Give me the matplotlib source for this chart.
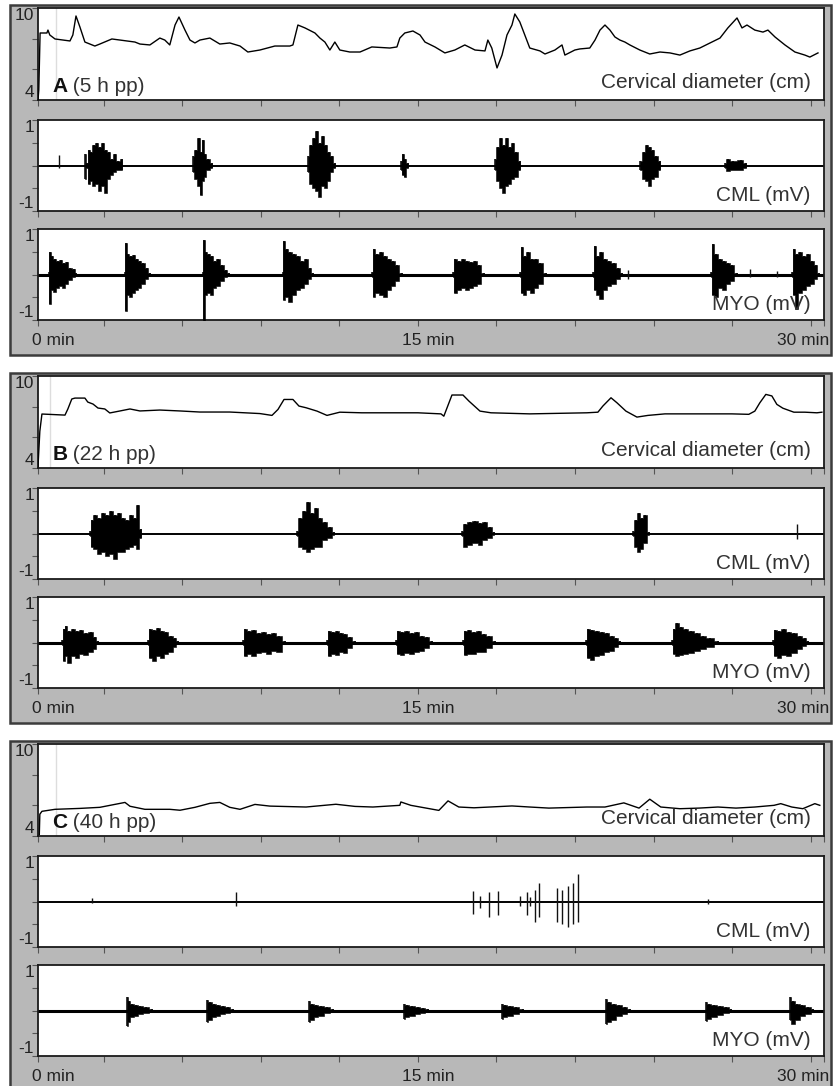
import matplotlib
matplotlib.use("Agg")
import matplotlib.pyplot as plt
from matplotlib.patches import Rectangle

plt.rcParams['font.family'] = ['Liberation Sans', 'DejaVu Sans']

# ---- cervical diameter traces (time in min, diameter in cm) ----
cerv_a_t = [0.50, 0.53, 0.58, 0.84, 0.88, 0.95, 1.15, 1.72, 1.83, 1.95, 2.10, 2.29, 2.48, 2.67, 2.86,
            3.32, 3.63, 4.20, 4.39, 4.77, 5.15, 5.34, 5.53, 5.73, 5.88, 6.11, 6.30, 6.49, 6.68, 7.06,
            7.44, 7.82, 8.21, 8.51, 8.97, 9.54, 10.11, 10.23, 10.42, 10.69, 11.07, 11.26, 11.45, 11.64,
            11.83, 12.02, 12.40, 12.79, 13.24, 13.93, 14.20, 14.31, 14.50, 14.81, 15.08, 15.27, 15.65,
            16.03, 16.41, 16.79, 17.18, 17.56, 17.67, 17.82, 18.02, 18.21, 18.40, 18.59, 18.70, 18.89,
            19.08, 19.27, 19.66, 19.85, 20.23, 20.50, 20.61, 20.99, 21.18, 21.56, 21.76, 21.95, 22.14,
            22.33, 22.52, 22.71, 22.90, 23.09, 23.47, 23.85, 24.24, 24.62, 25.00, 25.38, 25.76, 26.15,
            26.53, 26.83, 27.18, 27.37, 27.56, 27.86, 28.17, 28.36, 28.63, 29.01, 29.39, 29.77, 29.96,
            30.27]
cerv_a_v = [4.00, 4.65, 8.37, 8.37, 8.56, 8.24, 7.98, 7.85, 8.24, 9.48, 8.76, 7.78, 7.65, 7.52, 7.65,
            7.98, 7.91, 7.78, 7.65, 7.59, 8.04, 7.91, 7.59, 8.89, 9.41, 8.56, 7.91, 7.72, 7.91, 8.04,
            7.65, 7.72, 7.52, 7.13, 7.26, 7.52, 7.52, 7.59, 8.89, 8.70, 8.37, 8.04, 7.78, 7.26,
            7.78, 7.26, 7.13, 7.13, 7.46, 7.39, 7.46, 8.04, 8.37, 8.50, 8.24, 7.78, 7.46,
            7.07, 7.26, 7.59, 7.26, 7.20, 7.91, 7.39, 6.09, 6.93, 8.24, 8.89, 9.61, 9.09,
            8.24, 7.39, 7.20, 7.00, 7.26, 7.59, 6.93, 7.26, 7.33, 7.39, 7.91, 8.56, 8.89,
            8.56, 8.11, 7.91, 7.78, 7.59, 7.26, 7.00, 7.13, 7.07, 6.93, 7.20, 7.39, 7.72,
            8.04, 8.70, 9.35, 8.70, 8.89, 8.56, 8.43, 8.56, 8.11, 7.59, 7.13, 6.93, 6.80,
            7.07]

cerv_b_t = [0.50, 0.57, 0.65, 1.53, 1.64, 1.79, 1.91, 2.29, 2.40, 2.60, 2.79, 3.05, 3.24, 3.63, 4.01,
            4.39, 5.15, 5.92, 6.68, 7.82, 8.97, 9.43, 9.66, 9.89, 10.23, 10.46, 10.73, 11.15, 11.53,
            12.02, 12.86, 15.00, 15.88, 15.99, 16.30, 16.72, 16.95, 17.37, 17.79, 19.27, 21.45, 21.87,
            22.06, 22.37, 22.60, 22.94, 23.36, 23.78, 24.43, 26.98, 27.63, 27.86, 28.05, 28.28, 28.51,
            28.70, 28.93, 29.35, 29.77, 30.23, 30.42]
cerv_b_v = [4.10, 6.40, 7.52, 7.45, 7.85, 8.50, 8.56, 8.56, 8.30, 8.17, 7.91, 7.85, 7.59, 7.72, 7.85,
            7.72, 7.78, 7.72, 7.65, 7.65, 7.55, 7.43, 7.82, 8.47, 8.47, 8.04, 7.93, 7.71, 7.43,
            7.64, 7.60, 7.60, 7.53, 7.38, 8.76, 8.76, 8.36, 7.71, 7.60, 7.53, 7.60, 7.64,
            8.04, 8.58, 8.25, 7.71, 7.32, 7.43, 7.53, 7.53, 7.50, 7.71, 8.25, 8.80, 8.70,
            8.15, 7.90, 7.64, 7.64, 7.60, 7.64]

cerv_c_t = [0.55, 0.57, 0.65, 1.15, 2.10, 2.86, 3.82, 4.01, 4.58, 5.53, 5.92, 6.49, 7.06, 7.44, 7.82,
            8.21, 8.78, 9.35, 10.73, 11.87, 12.60, 13.28, 14.31, 14.35, 14.73, 15.80, 16.15, 16.56,
            17.14, 18.59, 19.27, 20.00, 21.45, 22.14, 22.86, 23.44, 23.85, 24.27, 25.00, 25.73, 26.45,
            27.14, 27.86, 28.59, 28.85, 29.27, 29.69, 30.15, 30.34]
cerv_c_v = [4.10, 5.42, 5.61, 5.74, 5.80, 5.87, 6.19, 5.94, 5.74, 5.74, 5.68, 5.87, 6.13, 6.19, 5.87,
            5.74, 6.06, 5.95, 5.89, 6.07, 5.93, 5.89, 6.00, 6.22, 6.00, 5.67, 6.29, 5.89,
            5.84, 5.96, 5.89, 5.82, 5.89, 5.89, 6.16, 5.82, 6.40, 5.89, 5.78, 5.82, 5.89,
            5.82, 5.89, 6.00, 6.11, 5.89, 5.78, 6.11, 6.00]

# ---- EMG bursts: each point is (time min, upper mV, lower mV) ----
cml_a_bursts = [
    [(2.29, 0.25, -0.30), (2.37, 0.05, -0.05), (2.44, 0.35, -0.40), (2.52, 0.30, -0.35), (2.63, 0.45, -0.45),
     (2.75, 0.50, -0.40), (2.86, 0.40, -0.55), (2.98, 0.50, -0.45), (3.09, 0.35, -0.60), (3.21, 0.30, -0.30),
     (3.32, 0.15, -0.20), (3.44, 0.25, -0.15), (3.55, 0.10, -0.10), (3.70, 0.15, -0.10)],
    [(6.41, 0.20, -0.15), (6.53, 0.35, -0.30), (6.64, 0.60, -0.45), (6.72, 0.30, -0.65), (6.79, 0.55, -0.35),
     (6.87, 0.25, -0.25), (6.98, 0.15, -0.10), (7.14, 0.05, -0.05)],
    [(10.80, 0.20, -0.15), (10.92, 0.45, -0.40), (11.03, 0.60, -0.50), (11.15, 0.75, -0.55), (11.26, 0.50, -0.70),
     (11.37, 0.65, -0.45), (11.49, 0.45, -0.50), (11.60, 0.30, -0.35), (11.72, 0.20, -0.15), (11.83, 0.05, -0.05)],
    [(14.35, 0.10, -0.10), (14.43, 0.25, -0.20), (14.50, 0.15, -0.25), (14.62, 0.05, -0.05)],
    [(17.94, 0.15, -0.10), (18.05, 0.40, -0.35), (18.17, 0.60, -0.50), (18.28, 0.45, -0.60), (18.40, 0.60, -0.45),
     (18.51, 0.40, -0.40), (18.63, 0.50, -0.30), (18.74, 0.30, -0.25), (18.89, 0.10, -0.10)],
    [(23.47, 0.10, -0.10), (23.63, 0.30, -0.30), (23.74, 0.45, -0.35), (23.85, 0.40, -0.45), (23.97, 0.35, -0.30),
     (24.08, 0.20, -0.25), (24.24, 0.10, -0.10)],
    [(26.72, 0.05, -0.05), (26.83, 0.15, -0.12), (27.02, 0.10, -0.10), (27.33, 0.12, -0.10), (27.52, 0.05, -0.05)],
]
cml_a_spikes = [(1.30, 0.22, -0.05)]

myo_a_bursts = [
    [(0.92, 0.05, -0.05), (0.95, 0.49, -0.64), (1.03, 0.40, -0.35), (1.15, 0.35, -0.38), (1.26, 0.30, -0.30),
     (1.37, 0.32, -0.25), (1.49, 0.25, -0.30), (1.60, 0.28, -0.20), (1.72, 0.15, -0.12), (1.87, 0.12, -0.05),
     (1.95, 0.03, -0.03)],
    [(3.82, 0.05, -0.05), (3.85, 0.69, -0.80), (3.93, 0.45, -0.45), (4.05, 0.40, -0.50), (4.16, 0.42, -0.40),
     (4.27, 0.35, -0.35), (4.39, 0.30, -0.30), (4.50, 0.25, -0.20), (4.66, 0.15, -0.10), (4.77, 0.03, -0.03)],
    [(6.79, 0.05, -0.05), (6.83, 0.76, -1.10), (6.91, 0.50, -0.45), (7.02, 0.45, -0.40), (7.14, 0.40, -0.45),
     (7.25, 0.30, -0.30), (7.37, 0.35, -0.25), (7.52, 0.20, -0.15), (7.67, 0.10, -0.05), (7.79, 0.03, -0.03)],
    [(9.85, 0.05, -0.05), (9.89, 0.73, -0.55), (10.00, 0.55, -0.50), (10.11, 0.50, -0.60), (10.27, 0.45, -0.45),
     (10.42, 0.40, -0.35), (10.57, 0.30, -0.30), (10.73, 0.35, -0.20), (10.88, 0.15, -0.10), (10.99, 0.03, -0.03)],
    [(13.24, 0.05, -0.05), (13.32, 0.55, -0.50), (13.44, 0.45, -0.40), (13.59, 0.50, -0.45), (13.74, 0.40, -0.50),
     (13.89, 0.35, -0.35), (14.05, 0.30, -0.25), (14.20, 0.20, -0.15), (14.39, 0.03, -0.03)],
    [(16.34, 0.05, -0.05), (16.41, 0.35, -0.40), (16.56, 0.30, -0.35), (16.72, 0.35, -0.30), (16.87, 0.30, -0.35),
     (17.02, 0.28, -0.30), (17.18, 0.30, -0.25), (17.33, 0.20, -0.20), (17.52, 0.03, -0.03)],
    [(18.89, 0.05, -0.05), (18.97, 0.60, -0.40), (19.08, 0.40, -0.45), (19.20, 0.50, -0.35), (19.35, 0.35, -0.40),
     (19.50, 0.35, -0.30), (19.66, 0.25, -0.20), (19.89, 0.03, -0.03)],
    [(21.68, 0.05, -0.05), (21.76, 0.62, -0.35), (21.87, 0.40, -0.45), (21.98, 0.50, -0.53), (22.14, 0.35, -0.35),
     (22.29, 0.30, -0.25), (22.48, 0.25, -0.20), (22.63, 0.15, -0.10), (22.79, 0.03, -0.03)],
    [(26.18, 0.05, -0.05), (26.26, 0.67, -0.45), (26.37, 0.45, -0.50), (26.53, 0.35, -0.30), (26.68, 0.30, -0.35),
     (26.83, 0.25, -0.20), (26.98, 0.20, -0.15), (27.18, 0.03, -0.03)],
    [(29.27, 0.05, -0.05), (29.35, 0.56, -0.45), (29.47, 0.45, -0.76), (29.58, 0.50, -0.40), (29.73, 0.40, -0.35),
     (29.89, 0.45, -0.25), (30.04, 0.30, -0.20), (30.19, 0.20, -0.10), (30.31, 0.03, -0.03)],
]
myo_a_spikes = [(23.02, 0.10, -0.10), (27.67, 0.12, -0.05), (28.70, 0.08, -0.05)]

cml_b_bursts = [
    [(2.48, 0.05, -0.05), (2.56, 0.30, -0.30), (2.67, 0.40, -0.35), (2.82, 0.35, -0.45), (2.98, 0.45, -0.40),
     (3.13, 0.40, -0.50), (3.28, 0.50, -0.45), (3.44, 0.40, -0.55), (3.59, 0.45, -0.40), (3.74, 0.35, -0.40),
     (3.89, 0.30, -0.35), (4.05, 0.40, -0.30), (4.20, 0.35, -0.25), (4.31, 0.63, -0.35), (4.43, 0.10, -0.10)],
    [(10.38, 0.05, -0.05), (10.50, 0.35, -0.30), (10.65, 0.50, -0.35), (10.80, 0.70, -0.40), (10.95, 0.45, -0.35),
     (11.11, 0.55, -0.30), (11.26, 0.35, -0.30), (11.45, 0.25, -0.15), (11.64, 0.15, -0.10), (11.79, 0.03, -0.03)],
    [(16.68, 0.05, -0.05), (16.79, 0.20, -0.30), (16.98, 0.25, -0.25), (17.18, 0.28, -0.20), (17.37, 0.22, -0.25),
     (17.56, 0.25, -0.15), (17.75, 0.15, -0.10), (17.90, 0.03, -0.03)],
    [(23.21, 0.05, -0.05), (23.32, 0.30, -0.30), (23.44, 0.45, -0.40), (23.55, 0.35, -0.35), (23.66, 0.40, -0.20),
     (23.82, 0.03, -0.03)],
]
cml_b_spikes = [(29.47, 0.20, -0.12)]

myo_b_bursts = [
    [(1.41, 0.05, -0.05), (1.49, 0.30, -0.40), (1.56, 0.37, -0.30), (1.68, 0.25, -0.45), (1.83, 0.30, -0.30),
     (1.98, 0.25, -0.35), (2.14, 0.28, -0.25), (2.33, 0.20, -0.28), (2.52, 0.22, -0.20), (2.67, 0.12, -0.15),
     (2.79, 0.03, -0.03)],
    [(4.69, 0.05, -0.05), (4.77, 0.30, -0.35), (4.92, 0.28, -0.40), (5.08, 0.32, -0.30), (5.23, 0.25, -0.35),
     (5.38, 0.22, -0.25), (5.57, 0.15, -0.20), (5.73, 0.10, -0.10), (5.84, 0.03, -0.03)],
    [(8.32, 0.05, -0.05), (8.40, 0.30, -0.30), (8.55, 0.25, -0.25), (8.74, 0.28, -0.30), (8.93, 0.20, -0.22),
     (9.12, 0.22, -0.20), (9.31, 0.18, -0.25), (9.50, 0.20, -0.18), (9.69, 0.15, -0.20), (9.92, 0.03, -0.03)],
    [(11.53, 0.05, -0.05), (11.60, 0.25, -0.30), (11.76, 0.22, -0.25), (11.91, 0.25, -0.28), (12.06, 0.20, -0.20),
     (12.21, 0.18, -0.22), (12.40, 0.12, -0.12), (12.60, 0.03, -0.03)],
    [(14.16, 0.05, -0.05), (14.24, 0.25, -0.25), (14.39, 0.22, -0.28), (14.58, 0.25, -0.22), (14.77, 0.20, -0.25),
     (14.96, 0.22, -0.20), (15.15, 0.15, -0.18), (15.34, 0.12, -0.12), (15.53, 0.03, -0.03)],
    [(16.72, 0.05, -0.05), (16.79, 0.25, -0.28), (16.95, 0.28, -0.25), (17.14, 0.22, -0.25), (17.33, 0.25, -0.20),
     (17.52, 0.18, -0.20), (17.71, 0.15, -0.12), (17.94, 0.03, -0.03)],
    [(21.41, 0.05, -0.05), (21.49, 0.30, -0.35), (21.64, 0.28, -0.38), (21.83, 0.25, -0.30), (22.02, 0.22, -0.28),
     (22.21, 0.20, -0.20), (22.40, 0.15, -0.18), (22.56, 0.10, -0.10), (22.71, 0.03, -0.03)],
    [(24.69, 0.05, -0.05), (24.77, 0.30, -0.25), (24.89, 0.42, -0.30), (25.04, 0.35, -0.28), (25.23, 0.30, -0.25),
     (25.42, 0.25, -0.22), (25.65, 0.20, -0.18), (25.88, 0.15, -0.15), (26.15, 0.10, -0.10), (26.45, 0.03, -0.03)],
    [(28.55, 0.05, -0.05), (28.63, 0.28, -0.30), (28.78, 0.25, -0.35), (28.97, 0.30, -0.28), (29.16, 0.22, -0.30),
     (29.35, 0.20, -0.22), (29.58, 0.15, -0.15), (29.77, 0.10, -0.08), (29.89, 0.03, -0.03)],
]
myo_b_spikes = []

cml_c_bursts = []
cml_c_spikes = [(2.56, 0.08, -0.04), (8.05, 0.20, -0.10), (17.10, 0.22, -0.28), (17.37, 0.12, -0.15),
                (17.71, 0.20, -0.35), (18.05, 0.22, -0.30), (18.89, 0.12, -0.10), (19.16, 0.20, -0.30),
                (19.27, 0.10, -0.10), (19.47, 0.25, -0.45), (19.62, 0.40, -0.35), (20.31, 0.30, -0.45),
                (20.50, 0.25, -0.50), (20.73, 0.35, -0.55), (20.92, 0.40, -0.50), (21.11, 0.60, -0.45),
                (26.07, 0.05, -0.05)]

myo_c_bursts = [
    [(3.89, 0.29, -0.35), (3.97, 0.20, -0.25), (4.08, 0.15, -0.15), (4.24, 0.12, -0.12), (4.39, 0.10, -0.08),
     (4.62, 0.08, -0.06), (4.85, 0.03, -0.03)],
    [(6.95, 0.22, -0.26), (7.06, 0.18, -0.20), (7.21, 0.15, -0.15), (7.37, 0.12, -0.12), (7.56, 0.10, -0.08),
     (7.75, 0.08, -0.06), (7.94, 0.03, -0.03)],
    [(10.84, 0.20, -0.25), (10.95, 0.15, -0.20), (11.11, 0.12, -0.15), (11.30, 0.10, -0.12), (11.53, 0.08, -0.06),
     (11.76, 0.03, -0.03)],
    [(14.47, 0.15, -0.18), (14.58, 0.12, -0.15), (14.77, 0.10, -0.12), (15.00, 0.08, -0.08), (15.19, 0.06, -0.06),
     (15.38, 0.03, -0.03)],
    [(18.21, 0.15, -0.18), (18.32, 0.12, -0.15), (18.51, 0.10, -0.12), (18.74, 0.08, -0.08), (19.01, 0.03, -0.03)],
    [(22.18, 0.25, -0.30), (22.29, 0.18, -0.25), (22.48, 0.15, -0.20), (22.67, 0.12, -0.12), (22.90, 0.08, -0.08),
     (23.09, 0.03, -0.03)],
    [(25.99, 0.18, -0.22), (26.11, 0.15, -0.18), (26.30, 0.12, -0.15), (26.53, 0.10, -0.10), (26.76, 0.08, -0.06),
     (26.95, 0.03, -0.03)],
    [(29.20, 0.30, -0.20), (29.31, 0.20, -0.30), (29.47, 0.15, -0.20), (29.66, 0.12, -0.12), (29.89, 0.08, -0.08),
     (30.08, 0.03, -0.03)],
]
myo_c_spikes = []

panel_letters = ['A', 'B', 'C']
panel_hours = ['(5 h pp)', '(22 h pp)', '(40 h pp)']
guide_times = [1.18, 0.95, 1.18]
x_ticks = [0.5, 3, 6, 9, 12, 15, 18, 21, 24, 27, 30, 30.5]

W, H = 837, 1086
AX_L, AX_W = 38, 786
FS_LABEL = 15
FS_TICK = 12.5


def fig_rect(left_px, top_px, w_px, h_px):
    return [left_px / W, 1 - (top_px + h_px) / H, w_px / W, h_px / H]


def style_axes(ax, ylim, yticks, ylabels):
    ax.set_xlim(0.5, 30.5)
    ax.set_ylim(*ylim)
    ax.set_xticks(x_ticks)
    ax.set_yticks(yticks)
    ax.set_xticklabels([])
    ax.set_yticklabels([])
    ax.tick_params(direction='out', length=4, width=0.8, colors='#555555')
    for s in ax.spines.values():
        s.set_linewidth(1.3)
        s.set_color('#1a1a1a')
    ax.text(-0.005, 0.995, ylabels[0], transform=ax.transAxes, ha='right', va='top',
            fontsize=FS_TICK, color='#222222')
    ax.text(-0.005, 0.0, ylabels[1], transform=ax.transAxes, ha='right', va='bottom',
            fontsize=FS_TICK, color='#222222')


def draw_emg(ax, bursts, spikes, base_lw):
    ax.axhline(0, color='black', lw=base_lw, zorder=2)
    for burst in bursts:
        t = [p[0] for p in burst]
        hi = [p[1] for p in burst]
        lo = [p[2] for p in burst]
        # blocky step fill gives the ragged look of a dense burst
        ax.fill_between(t, lo, hi, step='mid', facecolor='black', edgecolor='black', lw=0.4, zorder=3)
        ax.vlines(t, lo, hi, color='black', lw=1.1, zorder=3)
    for t, hi, lo in spikes:
        ax.vlines(t, lo, hi, color='#111111', lw=1.0, zorder=3)


def draw_panel(fig, top, i, cerv_t, cerv_v, cml_bursts, cml_spikes, myo_bursts, myo_spikes):
    bg = Rectangle((10 / W, 1 - (top + 347) / H), 821 / W, 350 / H, transform=fig.transFigure,
                   facecolor='#b8b8b8', edgecolor='#3c3c3c', lw=1.8, zorder=-5)
    fig.patches.append(bg)

    ax1 = fig.add_axes(fig_rect(AX_L, top, AX_W, 92))
    style_axes(ax1, (4, 10), [4, 6, 8, 10], ['10', '4'])
    ax1.axvline(guide_times[i], color='#dddddd', lw=1.0, zorder=1)
    ax1.plot(cerv_t, cerv_v, color='black', lw=1.0, zorder=3)
    t1 = ax1.text(0.018, 0.04, panel_letters[i], transform=ax1.transAxes, ha='left', va='bottom',
                  fontsize=FS_LABEL, fontweight='bold', color='#111111')
    ax1.annotate(' ' + panel_hours[i], xy=(1, 0), xycoords=t1, ha='left', va='bottom',
                 fontsize=FS_LABEL, color='#333333')
    ax1.text(0.983, 0.19, 'Cervical diameter (cm)', transform=ax1.transAxes, ha='right', va='center',
             fontsize=FS_LABEL, color='#333333', zorder=5)

    ax2 = fig.add_axes(fig_rect(AX_L, top + 112, AX_W, 91))
    style_axes(ax2, (-1, 1), [-1, -0.5, 0, 0.5, 1], ['1', '-1'])
    draw_emg(ax2, cml_bursts, cml_spikes, 1.4)
    ax2.text(0.983, 0.165, 'CML (mV)', transform=ax2.transAxes, ha='right', va='center',
             fontsize=FS_LABEL, color='#333333', zorder=5)

    ax3 = fig.add_axes(fig_rect(AX_L, top + 221, AX_W, 91))
    style_axes(ax3, (-1, 1), [-1, -0.5, 0, 0.5, 1], ['1', '-1'])
    draw_emg(ax3, myo_bursts, myo_spikes, 2.2)
    ax3.text(0.983, 0.165, 'MYO (mV)', transform=ax3.transAxes, ha='right', va='center',
             fontsize=FS_LABEL, color='#333333', zorder=5)
    ax3.text(-0.0076, -0.23, '0 min', transform=ax3.transAxes, ha='left', va='center',
             fontsize=FS_TICK, color='#222222')
    ax3.text((428 - AX_L) / AX_W, -0.23, '15 min', transform=ax3.transAxes, ha='center', va='center',
             fontsize=FS_TICK, color='#222222')
    ax3.text(1.0064, -0.23, '30 min', transform=ax3.transAxes, ha='right', va='center',
             fontsize=FS_TICK, color='#222222')


fig = plt.figure(figsize=(W / 100, H / 100), dpi=100)
fig.patch.set_facecolor('white')

draw_panel(fig, 8, 0, cerv_a_t, cerv_a_v, cml_a_bursts, cml_a_spikes, myo_a_bursts, myo_a_spikes)
draw_panel(fig, 376, 1, cerv_b_t, cerv_b_v, cml_b_bursts, cml_b_spikes, myo_b_bursts, myo_b_spikes)
draw_panel(fig, 744, 2, cerv_c_t, cerv_c_v, cml_c_bursts, cml_c_spikes, myo_c_bursts, myo_c_spikes)

fig.savefig('out.png', dpi=100, facecolor='white')
